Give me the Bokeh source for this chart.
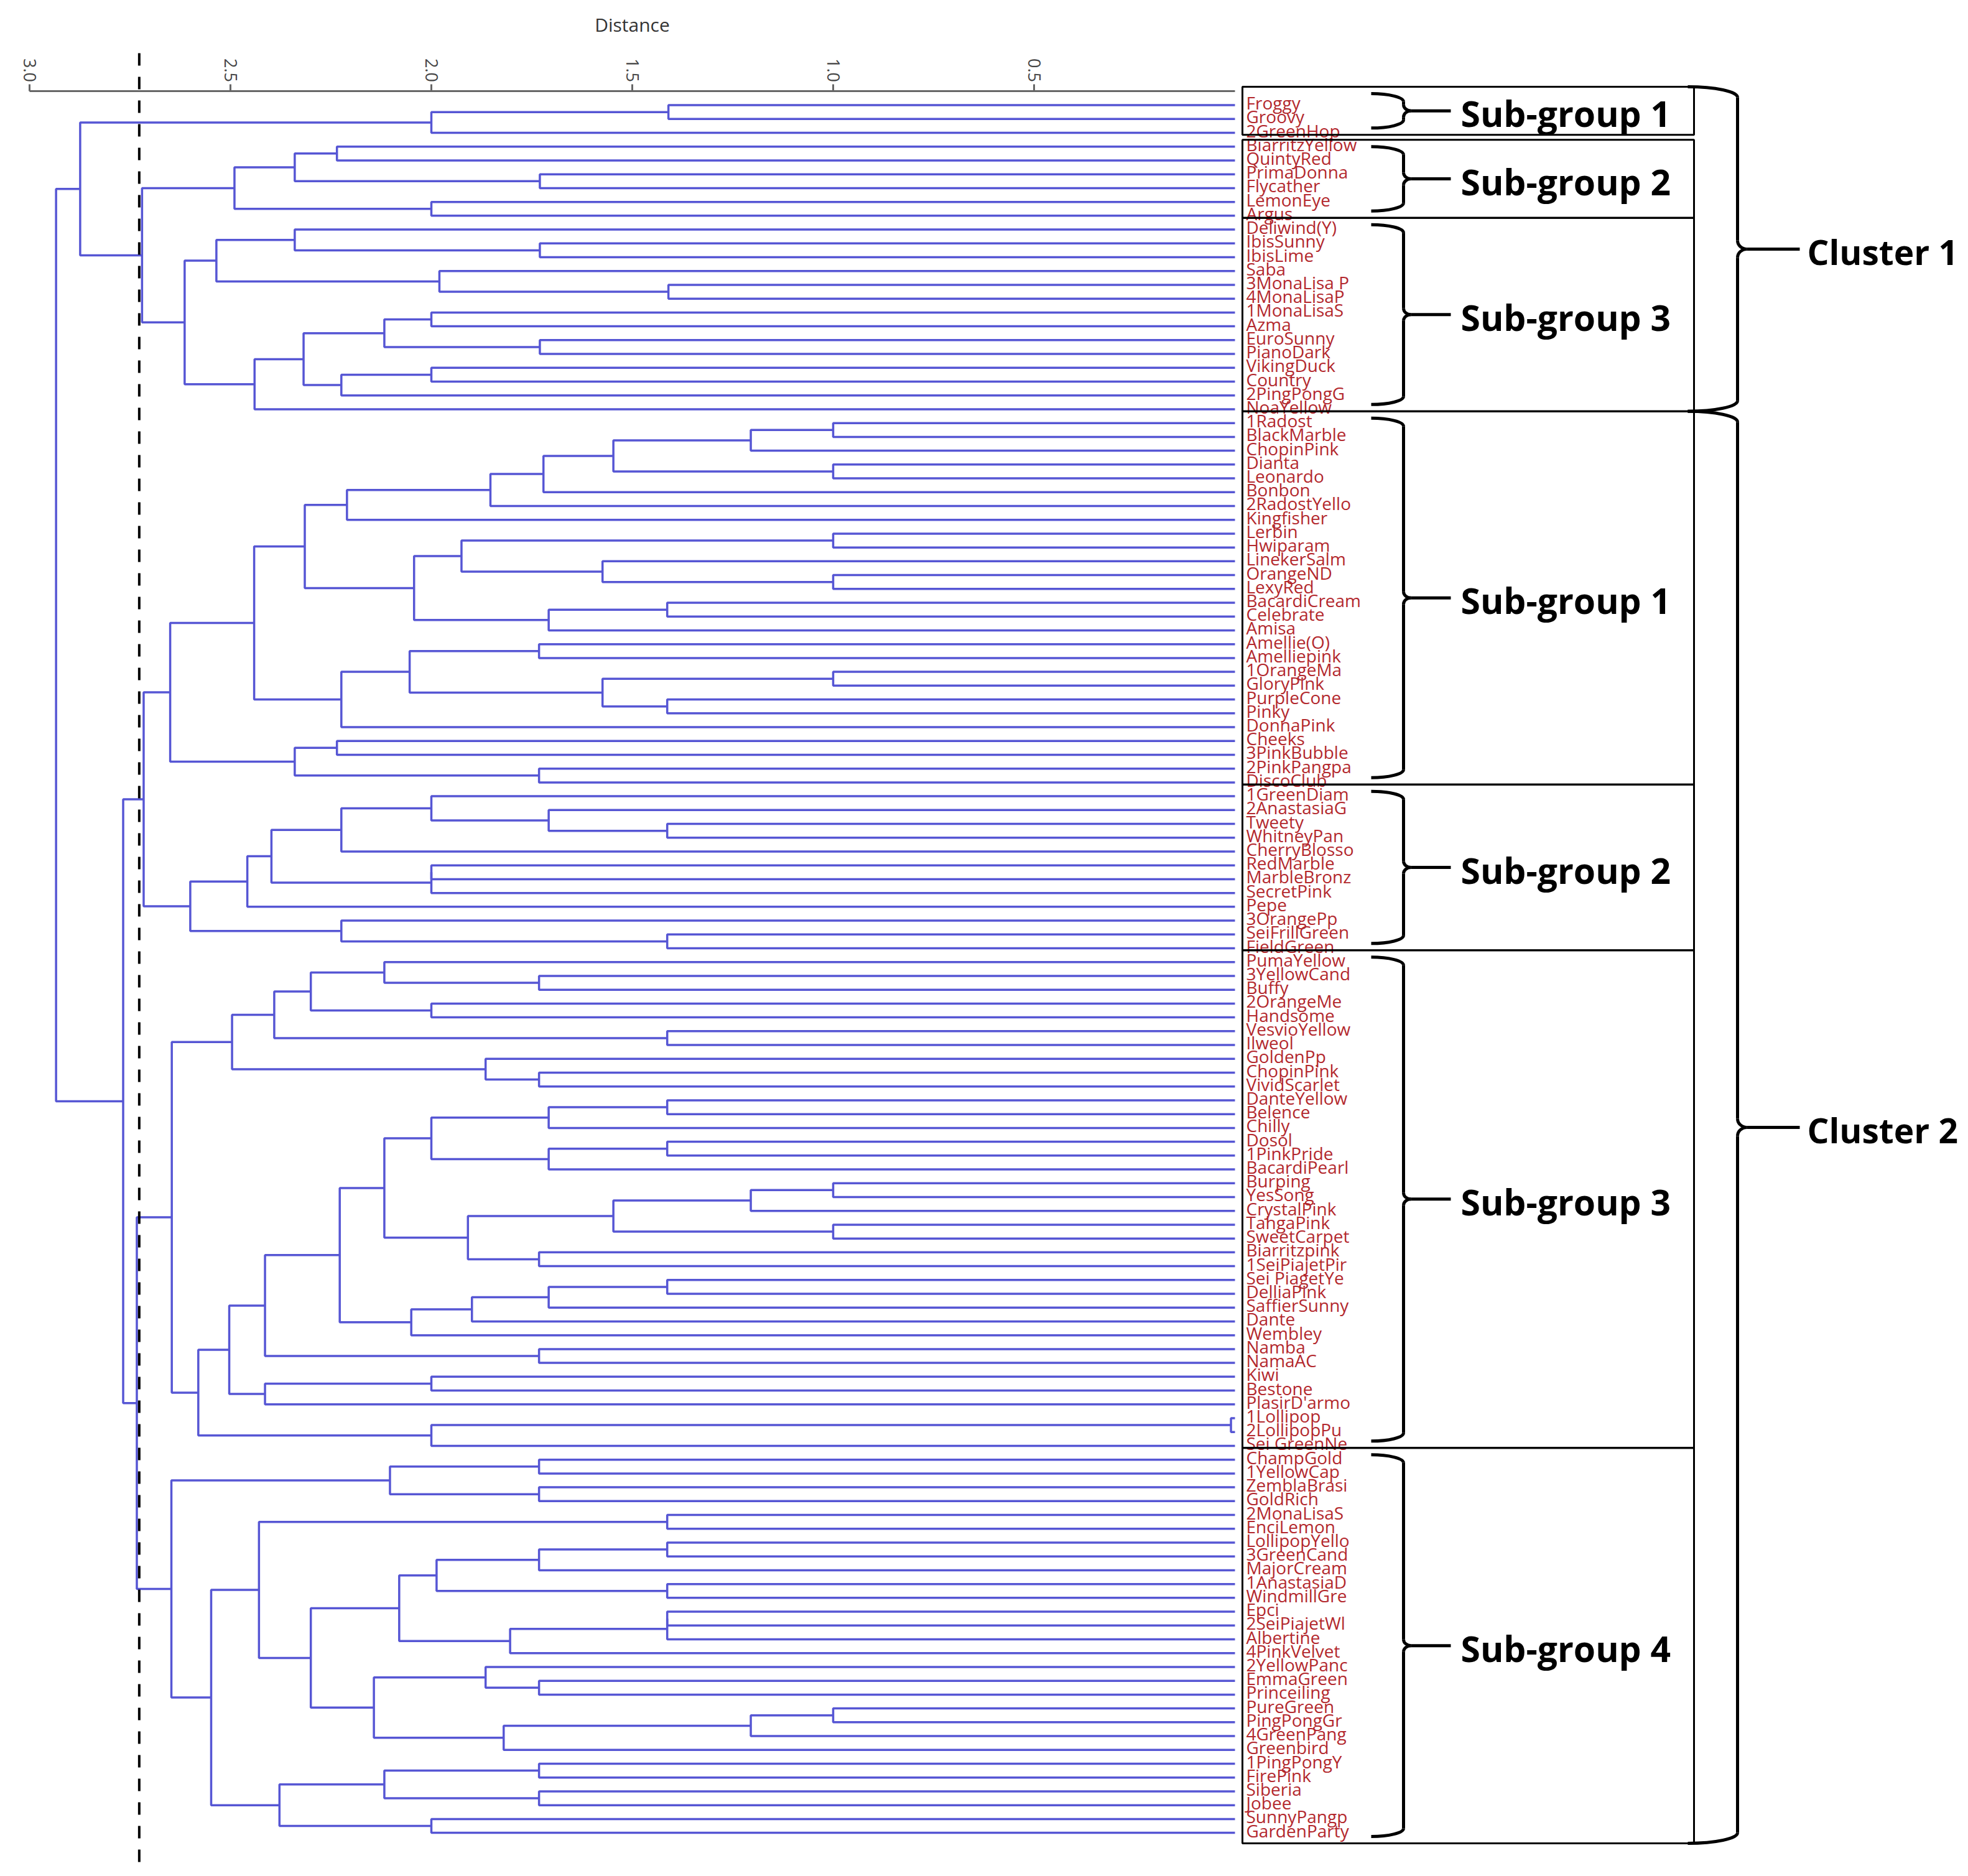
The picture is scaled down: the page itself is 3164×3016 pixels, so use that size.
import math
from bokeh.plotting import figure
from bokeh.models import Range1d, LinearAxis, FixedTicker, PrintfTickFormatter
from bokeh.embed import file_html
from bokeh.resources import INLINE
from bokeh.core.properties import value

# ---------------------------------------------------------------- data
leaf_labels = [
    "Froggy", "Groovy", "2GreenHop",
    "BiarritzYellow", "QuintyRed", "PrimaDonna", "Flycather", "LemonEye", "Argus",
    "Deliwind(Y)", "IbisSunny", "IbisLime", "Saba", "3MonaLisa P", "4MonaLisaP",
    "1MonaLisaS", "Azma", "EuroSunny", "PianoDark", "VikingDuck", "Country",
    "2PingPongG", "NoaYellow",
    "1Radost", "BlackMarble", "ChopinPink", "Dianta", "Leonardo", "Bonbon",
    "2RadostYello", "Kingfisher", "Lerbin", "Hwiparam", "LinekerSalm", "OrangeND",
    "LexyRed", "BacardiCream", "Celebrate", "Amisa", "Amellie(O)", "Amelliepink",
    "1OrangeMa", "GloryPink", "PurpleCone", "Pinky", "DonnaPink", "Cheeks",
    "3PinkBubble", "2PinkPangpa", "DiscoClub",
    "1GreenDiam", "2AnastasiaG", "Tweety", "WhitneyPan", "CherryBlosso", "RedMarble",
    "MarbleBronz", "SecretPink", "Pepe", "3OrangePp", "SeiFrillGreen", "FieldGreen",
    "PumaYellow", "3YellowCand", "Buffy", "2OrangeMe", "Handsome", "VesvioYellow",
    "Ilweol", "GoldenPp", "ChopinPink", "VividScarlet", "DanteYellow", "Belence",
    "Chilly", "Dosol", "1PinkPride", "BacardiPearl", "Burping", "YesSong",
    "CrystalPink", "TahgaPink", "SweetCarpet", "Biarritzpink", "1SeiPiajetPir",
    "Sei PiagetYe", "DelliaPink", "SaffierSunny", "Dante", "Wembley", "Namba",
    "NamaAC", "Kiwi", "Bestone", "PlasirD'armo", "1Lollipop", "2LollipopPu",
    "Sei GreenNe",
    "ChampGold", "1YellowCap", "ZemblaBrasi", "GoldRich", "2MonaLisaS", "EnciLemon",
    "LollipopYello", "3GreenCand", "MajorCream", "1AnastasiaD", "WindmillGre", "Epci",
    "2SeiPiajetWl", "Albertine", "4PinkVelvet", "2YellowPanc", "EmmaGreen",
    "Princeiling", "PureGreen", "PingPongGr", "4GreenPang", "Greenbird", "1PingPongY",
    "FirePink", "Siberia", "Jobee", "SunnyPangp", "GardenParty",
]

subgroup_names = ["Sub-group 1", "Sub-group 2", "Sub-group 3",
                  "Sub-group 1", "Sub-group 2", "Sub-group 3", "Sub-group 4"]
subgroup_sizes = [3, 6, 14, 27, 12, 36, 28]
cluster_names = ["Cluster 1", "Cluster 2"]
subgroups_per_cluster = [3, 4]
cut_distance = 2.727
tick_values = [3.0, 2.5, 2.0, 1.5, 1.0, 0.5]

# merges: (node name, child a, child b, distance); int child = leaf index
merges_c1_sg1 = [
    ("a1", 0, 1, 1.41), ("C1SG1", "a1", 2, 2.00),
]
merges_c1_sg2 = [
    ("b1", 3, 4, 2.235), ("b2", 5, 6, 1.73), ("b3", "b1", "b2", 2.34),
    ("b4", 7, 8, 2.00), ("C1SG2", "b3", "b4", 2.49),
]
merges_c1_sg3 = [
    ("c1", 10, 11, 1.73), ("c2", 9, "c1", 2.34), ("c3", 13, 14, 1.41),
    ("c4", 12, "c3", 1.98), ("c5", "c2", "c4", 2.535), ("c6", 15, 16, 2.00),
    ("c7", 17, 18, 1.73), ("c8", "c6", "c7", 2.117), ("c9", 19, 20, 2.00),
    ("c10", "c9", 21, 2.224), ("c11", "c8", "c10", 2.318), ("c12", "c11", 22, 2.44),
    ("C1SG3", "c5", "c12", 2.614),
]
merges_c2_sg1 = [
    ("d1", 23, 24, 1.0), ("d2", "d1", 25, 1.205), ("d3", 26, 27, 1.0),
    ("d4", "d2", "d3", 1.547), ("d5", "d4", 28, 1.721), ("d6", "d5", 29, 1.853),
    ("d7", "d6", 30, 2.21), ("d8", 31, 32, 1.0), ("d9", 34, 35, 1.0),
    ("d10", 33, "d9", 1.574), ("d11", "d8", "d10", 1.925), ("d12", 36, 37, 1.413),
    ("d13", "d12", 38, 1.708), ("d14", "d11", "d13", 2.043), ("d15", "d7", "d14", 2.315),
    ("d16", 39, 40, 1.732), ("d17", 41, 42, 1.0), ("d18", 43, 44, 1.413),
    ("d19", "d17", "d18", 1.574), ("d20", "d16", "d19", 2.054), ("d21", "d20", 45, 2.224),
    ("d22", "d15", "d21", 2.441), ("d23", 46, 47, 2.235), ("d24", 48, 49, 1.732),
    ("d25", "d23", "d24", 2.34), ("C2SG1", "d22", "d25", 2.65),
]
merges_c2_sg2 = [
    ("e1", 52, 53, 1.413), ("e2", 51, "e1", 1.708), ("e3", 50, "e2", 2.0),
    ("e4", "e3", 54, 2.224), ("e5", 55, 56, 2.0), ("e6", "e5", 57, 2.0),
    ("e7", "e4", "e6", 2.398), ("e8", "e7", 58, 2.458), ("e9", 60, 61, 1.413),
    ("e10", 59, "e9", 2.224), ("C2SG2", "e8", "e10", 2.60),
]
merges_c2_sg3 = [
    ("f1", 63, 64, 1.732), ("f2", 62, "f1", 2.117), ("f3", 65, 66, 2.0),
    ("f4", "f2", "f3", 2.30), ("f5", 67, 68, 1.413), ("f6", "f4", "f5", 2.391),
    ("f7", 70, 71, 1.732), ("f8", 69, "f7", 1.865), ("f9", "f6", "f8", 2.496),
    ("g1", 72, 73, 1.413), ("g2", "g1", 74, 1.708), ("g3", 75, 76, 1.413),
    ("g4", "g3", 77, 1.708), ("g5", "g2", "g4", 2.0), ("g6", 78, 79, 1.0),
    ("g7", "g6", 80, 1.205), ("g8", 81, 82, 1.0), ("g9", "g7", "g8", 1.547),
    ("g10", 83, 84, 1.732), ("g11", "g9", "g10", 1.909), ("g12", "g5", "g11", 2.117),
    ("g13", 85, 86, 1.413), ("g14", "g13", 87, 1.708), ("g15", "g14", 88, 1.899),
    ("g16", "g15", 89, 2.05), ("g17", "g12", "g16", 2.228), ("g18", 90, 91, 1.732),
    ("g19", "g17", "g18", 2.414), ("g20", 92, 93, 2.0), ("g21", "g20", 94, 2.414),
    ("g22", "g19", "g21", 2.503), ("g23", 95, 96, 0.01), ("g24", "g23", 97, 2.0),
    ("g25", "g22", "g24", 2.58), ("C2SG3", "f9", "g25", 2.646),
]
merges_c2_sg4 = [
    ("h1", 98, 99, 1.732), ("h2", 100, 101, 1.732), ("h3", "h1", "h2", 2.103),
    ("i1", 102, 103, 1.413), ("i2", 104, 105, 1.413), ("i3", "i2", 106, 1.732),
    ("i4", 107, 108, 1.413), ("i5", "i3", "i4", 1.987), ("i6", 109, 110, 1.413),
    ("i7", "i6", 111, 1.413), ("i8", "i7", 112, 1.804), ("i9", "i5", "i8", 2.08),
    ("i10", 114, 115, 1.732), ("i11", 113, "i10", 1.865), ("i12", 116, 117, 1.0),
    ("i13", "i12", 118, 1.205), ("i14", "i13", 119, 1.82), ("i15", "i11", "i14", 2.143),
    ("i16", "i9", "i15", 2.30), ("i17", "i1", "i16", 2.429), ("j1", 120, 121, 1.732),
    ("j2", 122, 123, 1.732), ("j3", "j1", "j2", 2.117), ("j4", 124, 125, 2.0),
    ("j5", "j3", "j4", 2.378), ("i18", "i17", "j5", 2.548),
    ("C2SG4", "h3", "i18", 2.647),
]
merges_top = [
    ("C1B", "C1SG2", "C1SG3", 2.72), ("C1", "C1SG1", "C1B", 2.874),
    ("C2A", "C2SG1", "C2SG2", 2.716), ("C2B", "C2SG3", "C2SG4", 2.733),
    ("C2", "C2A", "C2B", 2.767), ("root", "C1", "C2", 2.934),
]

# ---------------------------------------------------------------- layout
W, H = 3148, 3000
X_ZERO_PX = 1985.0      # screen x of distance 0
PX_PER_UNIT = 646.0     # screen px per distance unit
LEAF0_PX = 168.6        # screen y of first leaf
STEP = 22.22            # screen px between leaves

TREE_COLOR = "#5656d4"
LABEL_COLOR = "#b3282d"
FONT = "Open Sans"


def xd(px):
    return (X_ZERO_PX - px) / PX_PER_UNIT


def yd(py):
    return (py - LEAF0_PX) / STEP


def ypx(v):
    return LEAF0_PX + STEP * v


p = figure(width=W, height=H,
           x_range=Range1d(xd(0), xd(W)),
           y_range=Range1d(yd(H), yd(0)),
           output_backend="svg", toolbar_location=None,
           x_axis_location=None, y_axis_location=None,
           min_border=0, outline_line_color=None,
           background_fill_color="white", border_fill_color="white")
p.grid.visible = False

# ---------------------------------------------------------------- tree
all_merges = (merges_c1_sg1 + merges_c1_sg2 + merges_c1_sg3 + merges_c2_sg1 +
              merges_c2_sg2 + merges_c2_sg3 + merges_c2_sg4 + merges_top)
node = {}


def lookup(c):
    return (0.0, float(c)) if isinstance(c, int) else node[c]


xs, ys = [], []
for name, a, b, h in all_merges:
    ha, ya = lookup(a)
    hb, yb = lookup(b)
    xs.append([ha, h, h, hb])
    ys.append([ya, ya, yb, yb])
    node[name] = (h, 0.5 * (ya + yb))

p.multi_line(xs, ys, line_color=TREE_COLOR, line_width=3.5)

# cut line
p.segment(x0=[cut_distance], y0=[yd(85)], x1=[cut_distance], y1=[yd(2993)],
          line_color="black", line_width=4, line_dash="20 18")

# axis
ax = LinearAxis(fixed_location=yd(145.5), bounds=(0, 3.0),
                ticker=FixedTicker(ticks=tick_values),
                formatter=PrintfTickFormatter(format="%.1f"),
                axis_label="Distance")
ax.major_label_orientation = -math.pi / 2
ax.major_label_text_font = FONT
ax.major_label_text_font_size = "27px"
ax.major_label_text_color = "#444444"
ax.major_label_standoff = 3
ax.axis_label_text_font = FONT
ax.axis_label_text_font_size = "30px"
ax.axis_label_text_font_style = "normal"
ax.axis_label_text_color = "#333333"
ax.axis_label_standoff = 32
ax.axis_line_color = "#666666"
ax.axis_line_width = 3
ax.major_tick_line_color = "#666666"
ax.major_tick_line_width = 3
ax.major_tick_out = 11
ax.major_tick_in = 0
ax.minor_tick_line_color = None
p.add_layout(ax, "above")

# leaf labels
n = len(leaf_labels)
p.text(x=[xd(2003)] * n, y=list(range(n)), text=leaf_labels,
       text_font=value(FONT), text_font_size="28px", text_color=LABEL_COLOR,
       text_baseline="middle", text_align="left", y_offset=-4)

# ---------------------------------------------------------------- boxes
BOX_L, BOX_R = 1997, 2723
box_gap_px = [8, 0, 0, 0, 0, 0]
starts = []
acc = 0
for s in subgroup_sizes:
    starts.append(acc)
    acc += s

box_top, box_bot = [], []
for k, size in enumerate(subgroup_sizes):
    first, last = starts[k], starts[k] + size - 1
    if k == 0:
        top = ypx(first) - 1.33 * STEP
    else:
        top = ypx(first - 1) + 0.15 * STEP + box_gap_px[k - 1]
    if k == len(subgroup_sizes) - 1:
        bot = ypx(last) + 0.76 * STEP
    else:
        bot = ypx(last) + 0.15 * STEP
    box_top.append(top)
    box_bot.append(bot)

p.quad(left=[xd(BOX_L)] * len(box_top), right=[xd(BOX_R)] * len(box_top),
       top=[yd(t) for t in box_top], bottom=[yd(b) for b in box_bot],
       fill_alpha=0, line_color="black", line_width=3)

# ---------------------------------------------------------------- braces
bz = dict(x0=[], y0=[], x1=[], y1=[], cx0=[], cy0=[], cx1=[], cy1=[])
sg = dict(x0=[], y0=[], x1=[], y1=[])
K = 0.552


def add_bez(P0, P3, C0, C1):
    bz["x0"].append(xd(P0[0])); bz["y0"].append(yd(P0[1]))
    bz["x1"].append(xd(P3[0])); bz["y1"].append(yd(P3[1]))
    bz["cx0"].append(xd(C0[0])); bz["cy0"].append(yd(C0[1]))
    bz["cx1"].append(xd(C1[0])); bz["cy1"].append(yd(C1[1]))


def add_seg(P0, P1):
    sg["x0"].append(xd(P0[0])); sg["y0"].append(yd(P0[1]))
    sg["x1"].append(xd(P1[0])); sg["y1"].append(yd(P1[1]))


def brace(yt, yb, xt, xs_, xc, xe, rc, rk):
    ym = 0.5 * (yt + yb)
    dx = xs_ - xt
    dc = xc - xs_
    add_bez((xt, yt), (xs_, yt + rc), (xt + K * dx, yt), (xs_, yt + (1 - K) * rc))
    add_seg((xs_, yt + rc), (xs_, ym - rk))
    add_bez((xs_, ym - rk), (xc, ym), (xs_, ym - (1 - K) * rk), (xc - K * dc, ym))
    add_bez((xc, ym), (xs_, ym + rk), (xc - K * dc, ym), (xs_, ym + (1 - K) * rk))
    add_seg((xs_, ym + rk), (xs_, yb - rc))
    add_bez((xs_, yb - rc), (xt, yb), (xs_, yb - (1 - K) * rc), (xt + K * dx, yb))
    add_seg((xc, ym), (xe, ym))
    return ym


sub_mid = []
for k in range(len(subgroup_sizes)):
    sub_mid.append(brace(box_top[k] + 11, box_bot[k] - 11, 2204, 2256, 2268, 2332, 13, 10))

clu_mid = []
k0 = 0
for c, cnt in enumerate(subgroups_per_cluster):
    t = box_top[k0]
    b = box_bot[k0 + cnt - 1]
    clu_mid.append(brace(t, b, 2713, 2793, 2808, 2893, 17, 14))
    k0 += cnt

p.bezier(x0="x0", y0="y0", x1="x1", y1="y1", cx0="cx0", cy0="cy0", cx1="cx1", cy1="cy1",
         source=bz, line_color="black", line_width=5)
p.segment(x0="x0", y0="y0", x1="x1", y1="y1", source=sg, line_color="black", line_width=5)

p.text(x=[xd(2348)] * len(subgroup_names), y=[yd(m) for m in sub_mid], text=subgroup_names,
       text_font=value(FONT), text_font_size="57px", text_font_style="bold",
       text_color="black", text_baseline="middle", text_align="left", y_offset=4)
p.text(x=[xd(2905)] * len(cluster_names), y=[yd(m) for m in clu_mid], text=cluster_names,
       text_font=value(FONT), text_font_size="55px", text_font_style="bold",
       text_color="black", text_baseline="middle", text_align="left", y_offset=4)

open("out.html", "w").write(file_html(p, INLINE))
